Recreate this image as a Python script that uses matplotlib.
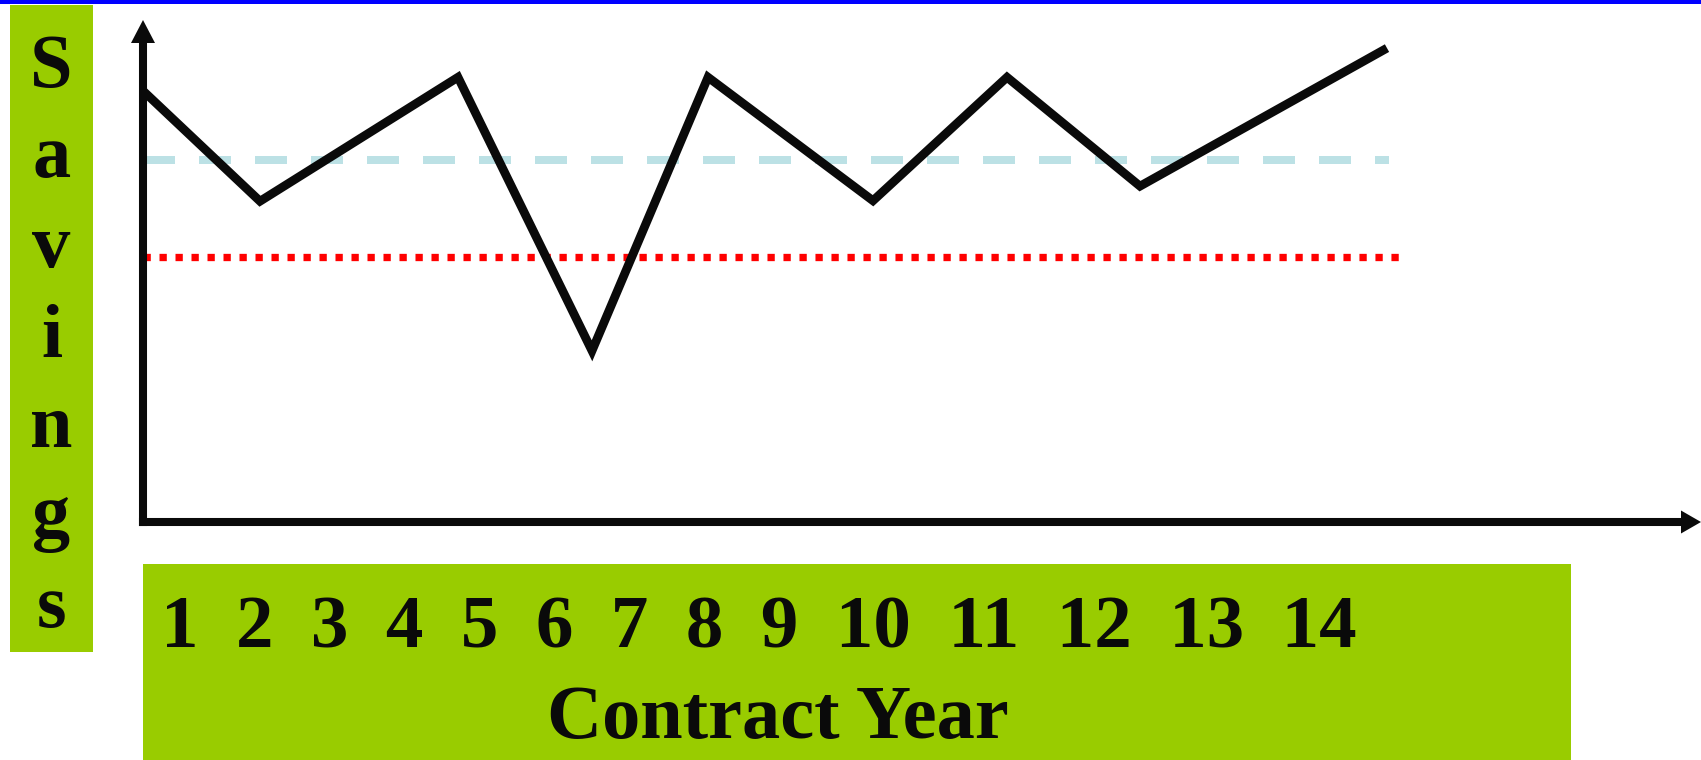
import matplotlib
matplotlib.use("Agg")
import matplotlib.pyplot as plt
from matplotlib.patches import Rectangle, Polygon

# ---- chart data -------------------------------------------------------
years = list(range(1, 15))
point_x = [0.0, 1.17, 3.15, 4.49, 5.65, 7.30, 8.64, 9.97, 12.44]
savings = [85.9, 63.9, 88.6, 34.1, 88.6, 64.0, 88.6, 66.9, 94.4]
target_level = 72.2
minimum_level = 52.8
target_end = 12.46
minimum_end = 12.56
y_label = "Savings"
x_label = "Contract Year"

# ---- styling ----------------------------------------------------------
W, H, DPI = 1701, 760, 100
GREEN = "#99CC00"
INK = "#0a0a0a"
FONT = dict(family="Liberation Serif", weight="bold", size=55, color=INK)
TICK_FONT = dict(FONT, size=54)

fig = plt.figure(figsize=(W / DPI, H / DPI), dpi=DPI, facecolor="white")

# page layer in pixel units (y grows downward)
page = fig.add_axes([0, 0, 1, 1])
page.set_xlim(0, W)
page.set_ylim(H, 0)
page.axis("off")
page.add_patch(Rectangle((0, 0), W, 3.5, color="#0000FF", lw=0))
page.add_patch(Rectangle((10, 5), 83, 647, color=GREEN, lw=0))
page.add_patch(Rectangle((143, 564), 1428, 196, color=GREEN, lw=0))

for i, ch in enumerate(y_label):
    page.text(51.5, 87 + 90 * i, ch, ha="center", va="baseline", **FONT)
page.text(759, 648, "  ".join(str(y) for y in years),
          ha="center", va="baseline", **TICK_FONT)
page.text(778, 738, x_label, ha="center", va="baseline", **FONT)

# ---- plot area --------------------------------------------------------
x0, x1, ytop, ybot = 143, 1701, 20, 522
ax = fig.add_axes([x0 / W, (H - ybot) / H, (x1 - x0) / W, (ybot - ytop) / H])
ax.patch.set_alpha(0)
ax.set_xlim(0, (x1 - x0) / 100)
ax.set_ylim(0, 100)
ax.axis("off")

# reference levels
ax.plot([0, target_end], [target_level, target_level], color="#BCE1E5",
        lw=5.76, dashes=(4.0, 3.0), dash_capstyle="butt", clip_on=False)
ax.plot([0, minimum_end], [minimum_level, minimum_level], color="#FF0000",
        lw=5.26, dashes=(1.0, 1.19), dash_capstyle="butt", clip_on=False)

# savings trace
ax.plot(point_x, savings, color=INK, lw=6.3, solid_joinstyle="miter",
        solid_capstyle="butt", clip_on=False)

# arrowed axes
aw, ah = (x1 - x0), (ybot - ytop)
ax.plot([0, 0], [0, 1 - 23 / ah], transform=ax.transAxes, color=INK, lw=5.8,
        solid_capstyle="projecting", clip_on=False)
ax.plot([0, 1 - 20 / aw], [0, 0], transform=ax.transAxes, color=INK, lw=5.8,
        solid_capstyle="projecting", clip_on=False)
ax.add_patch(Polygon([(-12 / aw, 1 - 23 / ah), (12 / aw, 1 - 23 / ah), (0, 1)],
                     closed=True, transform=ax.transAxes, color=INK, lw=0,
                     clip_on=False))
ax.add_patch(Polygon([(1 - 20 / aw, -11.5 / ah), (1 - 20 / aw, 11.5 / ah), (1, 0)],
                     closed=True, transform=ax.transAxes, color=INK, lw=0,
                     clip_on=False))

fig.savefig("out.png", dpi=DPI, facecolor="white")
